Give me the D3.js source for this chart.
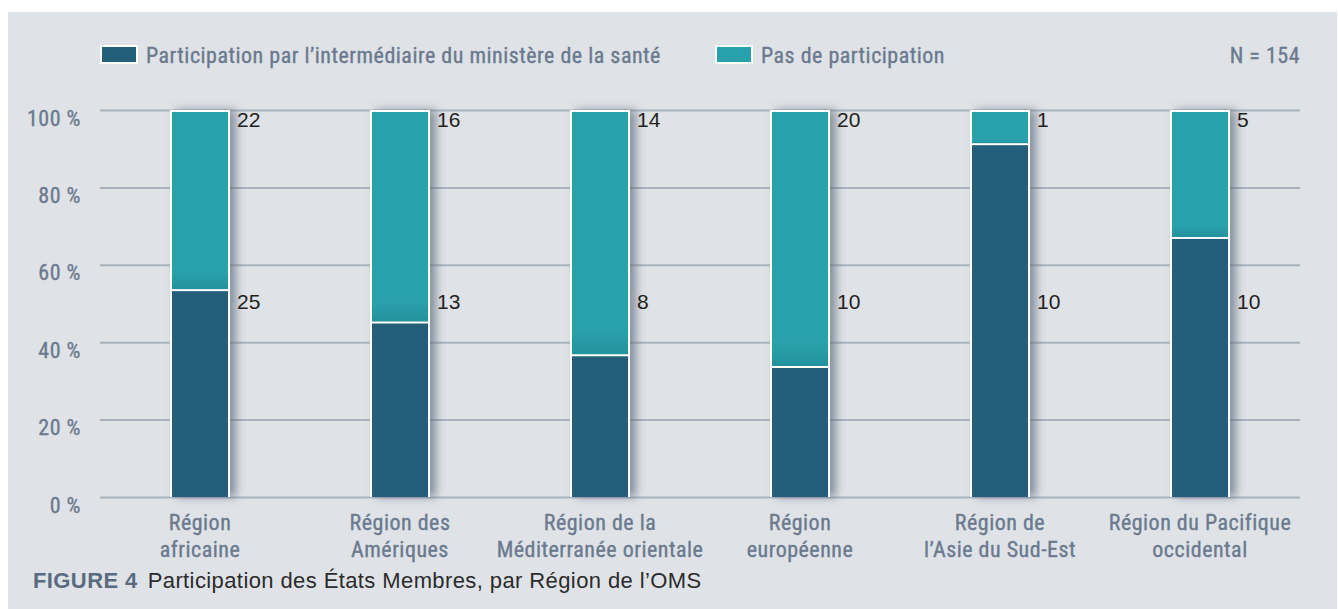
<!DOCTYPE html>
<html>
<head>
<meta charset="utf-8">
<script src="https://cdn.jsdelivr.net/npm/d3@7"></script>
<style>
  html, body { margin: 0; padding: 0; background: #ffffff; }
  .cond { font-family: 'Liberation Sans Narrow', 'Roboto Condensed', 'DejaVu Sans Condensed', 'Liberation Sans', sans-serif; font-size: 22px; letter-spacing: 0.5px; stroke-width: 0.35px; }
  .reg { font-family: 'Liberation Sans', Arial, Helvetica, sans-serif; }
</style>
</head>
<body>
<script>
// categories, two lines each
const regions = [
  ['Région', 'africaine'],
  ['Région des', 'Amériques'],
  ['Région de la', 'Méditerranée orientale'],
  ['Région', 'européenne'],
  ['Région de', 'l\u2019Asie du Sud-Est'],
  ['Région du Pacifique', 'occidental']
];
const viaMinistry = [25, 13, 8, 10, 10, 10];
const noParticipation = [22, 16, 14, 20, 1, 5];
const yTicks = [0, 20, 40, 60, 80, 100];
const seriesNames = ['Participation par l\u2019intermédiaire du ministère de la santé', 'Pas de participation'];

const W = 1338, H = 609;
const plot = {left: 100, right: 1300, top: 110, bottom: 497};
const colDark = '#235f7b', colTeal = '#29a1ac';
const greyText = '#6b7a8e';

const rows = regions.map((r, i) => {
  const tot = viaMinistry[i] + noParticipation[i];
  return {key: r.join(' '), lines: r, a: viaMinistry[i], b: noParticipation[i], pa: viaMinistry[i] / tot * 100};
});

const svg = d3.select('body').append('svg')
  .attr('width', W).attr('height', H);

const defs = svg.append('defs');
const f = defs.append('filter').attr('id', 'shadow')
  .attr('x', '-50%').attr('y', '-20%').attr('width', '200%').attr('height', '140%');
f.append('feDropShadow').attr('dx', 6).attr('dy', 0).attr('stdDeviation', 5)
  .attr('flood-color', '#5f6b7d').attr('flood-opacity', 0.7);

const g = defs.append('linearGradient').attr('id', 'tealGrad')
  .attr('x1', 0).attr('y1', 0).attr('x2', 0).attr('y2', 1);
g.append('stop').attr('offset', '0%').attr('stop-color', colTeal);
g.append('stop').attr('offset', '90%').attr('stop-color', colTeal);
g.append('stop').attr('offset', '100%').attr('stop-color', '#23929e');

// panel
svg.append('rect').attr('x', 8).attr('y', 12).attr('width', 1329).attr('height', H - 12)
  .attr('fill', '#dfe3e7');

const x = d3.scaleBand()
  .domain(rows.map(d => d.key))
  .range([plot.left, plot.right])
  .paddingInner(0.7).paddingOuter(0.35);

const y = d3.scaleLinear().domain([0, 100]).range([plot.bottom, plot.top]);

// grid + y labels
const yAxis = d3.axisLeft(y)
  .tickValues(yTicks)
  .tickSize(-(plot.right - plot.left))
  .tickFormat(d => d + ' %');

const ya = svg.append('g')
  .attr('transform', 'translate(' + plot.left + ',0)')
  .call(yAxis);
ya.select('.domain').remove();
ya.selectAll('.tick line').attr('stroke', '#a9b2bd').attr('stroke-width', 2);
ya.selectAll('.tick text')
  .attr('class', 'cond')
  .attr('x', -19).attr('dy', 15)
  .attr('fill', greyText).attr('stroke', greyText)
  .attr('font-size', null);

// bars
const bars = svg.append('g').selectAll('g.bar').data(rows).join('g').attr('class', 'bar');

bars.append('rect')
  .attr('x', d => x(d.key))
  .attr('y', y(100))
  .attr('width', x.bandwidth())
  .attr('height', y(0) - y(100))
  .attr('fill', '#ffffff')
  .attr('filter', 'url(#shadow)');

bars.append('rect')
  .attr('x', d => x(d.key) + 2)
  .attr('y', y(100) + 2)
  .attr('width', x.bandwidth() - 4)
  .attr('height', d => y(d.pa) - y(100) - 4)
  .attr('fill', 'url(#tealGrad)');

bars.append('rect')
  .attr('x', d => x(d.key) + 2)
  .attr('y', d => y(d.pa))
  .attr('width', x.bandwidth() - 4)
  .attr('height', d => y(0) - y(d.pa))
  .attr('fill', colDark);

// value labels: non-participants at the top, ministry at mid-height
bars.append('text')
  .attr('class', 'reg')
  .attr('x', d => x(d.key) + x.bandwidth() + 7)
  .attr('y', y(100) + 17)
  .attr('fill', '#231f20')
  .style('font-size', '21px')
  .text(d => d.b);

bars.append('text')
  .attr('class', 'reg')
  .attr('x', d => x(d.key) + x.bandwidth() + 7)
  .attr('y', y(50) + 5)
  .attr('fill', '#231f20')
  .style('font-size', '21px')
  .text(d => d.a);

// x labels
const xa = svg.append('g')
  .attr('transform', 'translate(0,' + plot.bottom + ')')
  .call(d3.axisBottom(x).tickSize(0).tickFormat(''));
xa.select('.domain').remove();
xa.selectAll('.tick').each(function (k, i) {
  const t = d3.select(this).append('text')
    .attr('class', 'cond')
    .attr('text-anchor', 'middle')
    .attr('fill', greyText).attr('stroke', greyText);
  rows[i].lines.forEach((ln, j) => {
    t.append('tspan').attr('x', 0).attr('y', 33 + j * 27).text(ln);
  });
});

// legend
const legend = svg.append('g');
const legItems = [
  {name: seriesNames[0], color: colDark, x: 101},
  {name: seriesNames[1], color: colTeal, x: 716}
];
legend.selectAll('rect').data(legItems).join('rect')
  .attr('x', d => d.x).attr('y', 46)
  .attr('width', 36).attr('height', 17)
  .attr('fill', d => d.color)
  .attr('stroke', '#ffffff').attr('stroke-width', 2);
legend.selectAll('text').data(legItems).join('text')
  .attr('class', 'cond')
  .attr('x', d => d.x + 45).attr('y', 63)
  .attr('fill', greyText).attr('stroke', greyText)
  .text(d => d.name);

svg.append('text')
  .attr('class', 'cond')
  .attr('x', plot.right).attr('y', 63)
  .attr('text-anchor', 'end')
  .attr('fill', greyText).attr('stroke', greyText)
  .text('N = 154');

// caption
const cap = svg.append('text')
  .attr('class', 'reg')
  .attr('x', 33).attr('y', 588)
  .style('font-size', '22px')
  .style('letter-spacing', '0.4px');
cap.append('tspan').attr('fill', '#5a6b80').attr('font-weight', 'bold').text('FIGURE 4');
cap.append('tspan').attr('dx', 10).attr('fill', '#2b2b2b').text('Participation des États Membres, par Région de l\u2019OMS');
</script>
</body>
</html>
